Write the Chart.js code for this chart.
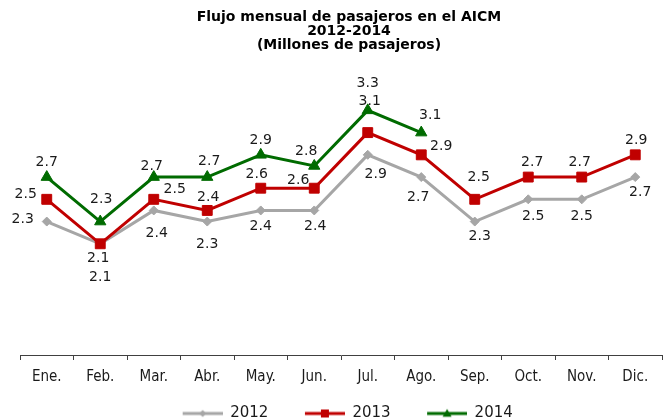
<!DOCTYPE html>
<html>
<head>
<meta charset="utf-8">
<script src="https://cdn.jsdelivr.net/npm/chart.js@4.4.1/dist/chart.umd.min.js"></script>
<style>
  body { margin: 0; background: #fff; }
  .wrap { position: relative; width: 670px; height: 419px; }
  .titulo {
    position: absolute; top: 9px; left: 0; width: 670px; box-sizing: border-box;
    padding-left: 28px; text-align: center;
    font-family: "DejaVu Sans", sans-serif; font-weight: bold;
    font-size: 14px; line-height: 14px; color: #000;
  }
</style>
</head>
<body>
<div class="wrap">
  <div class="titulo">Flujo mensual de pasajeros en el AICM<br>2012-2014<br>(Millones de pasajeros)</div>
  <canvas id="flujo" width="670" height="419"></canvas>
</div>
<script>
var meses = ["Ene.", "Feb.", "Mar.", "Abr.", "May.", "Jun.", "Jul.", "Ago.", "Sep.", "Oct.", "Nov.", "Dic."];
var anios = ["2012", "2013", "2014"];
var datos2012 = [2.3, 2.1, 2.4, 2.3, 2.4, 2.4, 2.9, 2.7, 2.3, 2.5, 2.5, 2.7];
var datos2013 = [2.5, 2.1, 2.5, 2.4, 2.6, 2.6, 3.1, 2.9, 2.5, 2.7, 2.7, 2.9];
var datos2014 = [2.7, 2.3, 2.7, 2.7, 2.9, 2.8, 3.3, 3.1];

var colores = ["#a6a6a6", "#c00000", "#006b00"];

// desplazamiento de cada etiqueta respecto a su punto (dx, dy)
var etq2012 = [[-24, -2], [0, 34], [3, 23], [0, 23], [0, 16], [1, 16], [8, 20], [-3, 20], [5, 15], [5, 17], [0, 17], [5, 15]];
var etq2013 = [[-21, -5], [-2, 15], [21, -10], [1, -13], [-4, -14], [-16, -8], [2, -31], [20, -8], [4, -22], [4, -15], [-2, -15], [1, -14]];
var etq2014 = [[0, -15], [1, -22], [-2, -11], [2, -16], [0, -14], [-8, -15], [0, -27], [9, -17]];
var etiquetas = [etq2012, etq2013, etq2014];

// muestra de la leyenda: margen a la izquierda + linea de 40px con su marcador
function simbolo(color, forma, r) {
  var c = document.createElement("canvas");
  c.width = 55; c.height = 14;
  var g = c.getContext("2d");
  g.strokeStyle = color; g.fillStyle = color; g.lineWidth = 3;
  g.beginPath(); g.moveTo(15, 7); g.lineTo(55, 7); g.stroke();
  g.beginPath();
  var cx = 35;
  if (forma == "rombo") { g.moveTo(cx, 7 - r); g.lineTo(cx + r, 7); g.lineTo(cx, 7 + r); g.lineTo(cx - r, 7); }
  else if (forma == "cuadro") { g.rect(cx - r, 7 - r, 2 * r, 2 * r); }
  else { g.moveTo(cx, 7 - r); g.lineTo(cx + r, 7 + r * 0.7); g.lineTo(cx - r, 7 + r * 0.7); }
  g.closePath(); g.fill();
  return c;
}
var simbolos = [simbolo(colores[0], "rombo", 3.5), simbolo(colores[1], "cuadro", 4), simbolo(colores[2], "tri", 4.5)];

var etiquetasPlugin = {
  id: "etiquetas",
  afterDatasetsDraw: function (chart) {
    var ctx = chart.ctx;
    ctx.save();
    ctx.font = "14px 'DejaVu Sans', sans-serif";
    ctx.fillStyle = "#1a1a1a";
    ctx.textAlign = "center";
    ctx.textBaseline = "middle";
    chart.data.datasets.forEach(function (ds, i) {
      var meta = chart.getDatasetMeta(i);
      meta.data.forEach(function (p, j) {
        var off = etiquetas[i][j];
        ctx.fillText(ds.data[j].toFixed(1), p.x + off[0], p.y + off[1]);
      });
    });
    ctx.restore();
  }
};

var ctx = document.getElementById("flujo").getContext("2d");
var grafica = new Chart(ctx, {
  type: "line",
  data: {
    labels: meses,
    datasets: [
      { label: anios[0], data: datos2012, borderColor: colores[0], backgroundColor: colores[0],
        borderWidth: 3, pointStyle: "rectRot", pointRadius: 4.5, pointBorderWidth: 1, order: 3 },
      { label: anios[1], data: datos2013, borderColor: colores[1], backgroundColor: colores[1],
        borderWidth: 3, pointStyle: "rect", pointRadius: 7, pointBorderWidth: 1, order: 2 },
      { label: anios[2], data: datos2014, borderColor: colores[2], backgroundColor: colores[2],
        borderWidth: 3, pointStyle: "triangle", pointRadius: 6.5, pointBorderWidth: 1, order: 1 }
    ]
  },
  options: {
    responsive: false,
    animation: false,
    layout: { padding: { top: 77, left: 20, right: 0, bottom: -12 } },
    scales: {
      x: {
        offset: true,
        grid: { display: true, offset: true, drawOnChartArea: false, drawTicks: true, tickLength: 5, color: "#404040" },
        border: { display: true, color: "#404040", width: 1 },
        ticks: { color: "#1a1a1a", padding: 8, font: { family: "'DejaVu Sans Condensed', 'DejaVu Sans'", size: 15 } }
      },
      y: { display: false, min: 1.1, max: 3.6 }
    },
    plugins: {
      tooltip: { enabled: false },
      legend: {
        position: "bottom",
        labels: {
          usePointStyle: true, pointStyleWidth: 55, boxHeight: 12, padding: 12,
          color: "#1a1a1a", font: { family: "'DejaVu Sans'", size: 15 },
          sort: function (a, b) { return a.datasetIndex - b.datasetIndex; },
          generateLabels: function (chart) {
            var items = Chart.defaults.plugins.legend.labels.generateLabels(chart);
            items.forEach(function (it) {
              it.pointStyle = simbolos[it.datasetIndex];
              it.text = it.text + "  ";
            });
            return items;
          }
        }
      }
    }
  },
  plugins: [etiquetasPlugin]
});
</script>
</body>
</html>
